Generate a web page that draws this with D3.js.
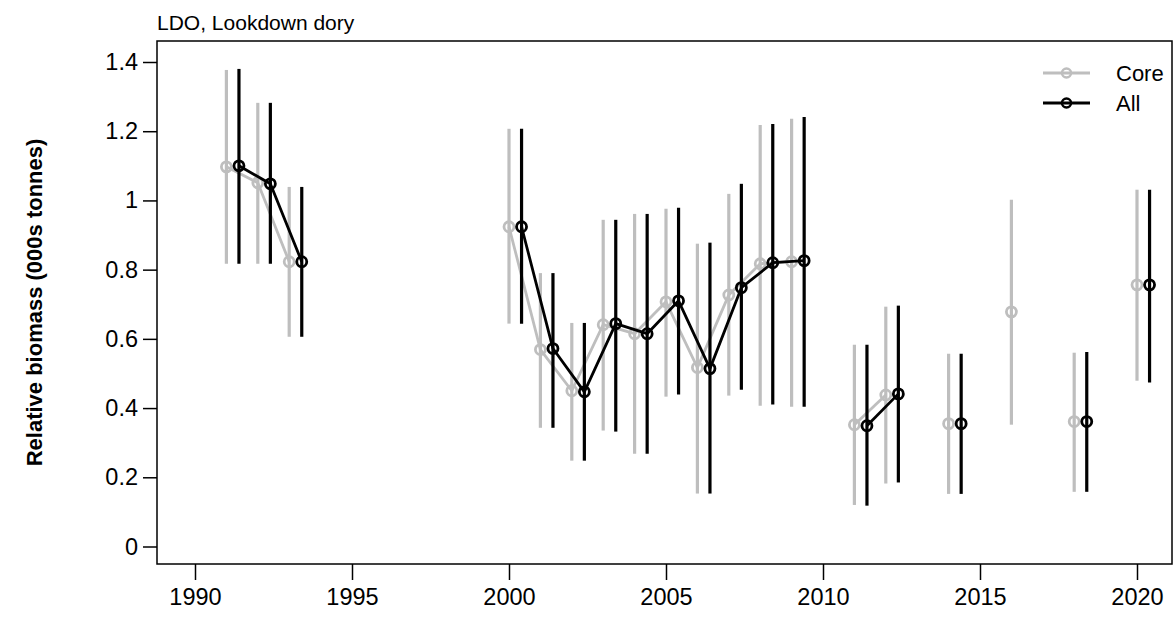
<!DOCTYPE html>
<html>
<head>
<meta charset="utf-8">
<script src="https://cdn.jsdelivr.net/npm/d3@7"></script>
<style>
  html, body { margin: 0; padding: 0; background: #fff; }
  svg { display: block; font-family: "Liberation Sans", Arial, sans-serif; }
</style>
</head>
<body>
<svg id="chart" width="1176" height="619"></svg>
<script>
const title = "LDO, Lookdown dory";
const yLabel = "Relative biomass (000s tonnes)";
const seriesNames = ["Core", "All"];

const years = [1991, 1992, 1993, 2000, 2001, 2002, 2003, 2004, 2005, 2006, 2007, 2008, 2009, 2011, 2012, 2014, 2016, 2018, 2020];

const coreVal = [1.097, 1.051, 0.823, 0.924, 0.569, 0.450, 0.641, 0.615, 0.707, 0.517, 0.727, 0.817, 0.823, 0.352, 0.438, 0.355, 0.678, 0.361, 0.756];
const coreLo  = [0.817, 0.817, 0.606, 0.644, 0.343, 0.248, 0.335, 0.268, 0.433, 0.153, 0.436, 0.407, 0.404, 0.120, 0.182, 0.152, 0.352, 0.158, 0.479];
const coreHi  = [1.377, 1.282, 1.039, 1.207, 0.790, 0.646, 0.944, 0.961, 0.976, 0.875, 1.019, 1.218, 1.236, 0.583, 0.693, 0.557, 1.002, 0.560, 1.031];

const allVal = [1.100, 1.048, 0.823, 0.924, 0.572, 0.447, 0.644, 0.615, 0.710, 0.514, 0.748, 0.820, 0.826, 0.349, 0.441, 0.355, null, 0.361, 0.756];
const allLo  = [0.817, 0.817, 0.606, 0.644, 0.343, 0.248, 0.332, 0.268, 0.439, 0.153, 0.453, 0.410, 0.404, 0.118, 0.185, 0.152, null, 0.158, 0.474];
const allHi  = [1.380, 1.282, 1.039, 1.207, 0.790, 0.646, 0.944, 0.961, 0.979, 0.878, 1.048, 1.221, 1.241, 0.583, 0.696, 0.557, null, 0.562, 1.031];

const xTicks = [1990, 1995, 2000, 2005, 2010, 2015, 2020];
const yTicks = [0, 0.2, 0.4, 0.6, 0.8, 1, 1.2, 1.4];

const svg = d3.select("#chart");

const x = d3.scaleLinear().domain([1990, 2020]).range([195, 1137]);
const y = d3.scaleLinear().domain([0, 1.4]).range([546.5, 62]);

const box = { left: 157, right: 1172, top: 41, bottom: 564 };
const greyCol = "#bebebe";

// plot frame
svg.append("rect")
  .attr("x", box.left).attr("y", box.top)
  .attr("width", box.right - box.left).attr("height", box.bottom - box.top)
  .attr("fill", "none").attr("stroke", "#000").attr("stroke-width", 1.5);

// x axis
const xAxis = d3.axisBottom(x).tickValues(xTicks).tickFormat(d3.format("d")).tickSize(16).tickPadding(8);
const gx = svg.append("g").attr("transform", `translate(0,${box.bottom})`).call(xAxis);
gx.select(".domain").remove();
gx.selectAll("line").attr("stroke", "#000").attr("stroke-width", 1.5);
gx.selectAll("text").attr("font-size", 23.5).attr("fill", "#000").attr("font-family", "Liberation Sans, Arial, sans-serif");

// y axis
const yAxis = d3.axisLeft(y).tickValues(yTicks).tickFormat(d => d3.format("~g")(d)).tickSize(14).tickPadding(5);
const gy = svg.append("g").attr("transform", `translate(${box.left},0)`).call(yAxis);
gy.select(".domain").remove();
gy.selectAll("line").attr("stroke", "#000").attr("stroke-width", 1.5);
gy.selectAll("text").attr("font-size", 23.5).attr("fill", "#000").attr("font-family", "Liberation Sans, Arial, sans-serif");

// title
svg.append("text").attr("x", 157).attr("y", 30)
  .attr("font-size", 21).attr("fill", "#000").text(title);

// y label
svg.append("text")
  .attr("transform", `translate(42,${(box.top + box.bottom) / 2}) rotate(-90)`)
  .attr("text-anchor", "middle")
  .attr("font-size", 22).attr("font-weight", "bold").attr("fill", "#000")
  .text(yLabel);

function buildSeries(vals, lo, hi, offset) {
  return years.map((yr, i) => ({ year: yr, xv: yr + offset, v: vals[i], lo: lo[i], hi: hi[i] }))
    .filter(d => d.v !== null);
}

function runs(data) {
  const out = [];
  let cur = [];
  data.forEach((d, i) => {
    if (i > 0 && d.year - data[i - 1].year !== 1) { out.push(cur); cur = []; }
    cur.push(d);
  });
  if (cur.length) out.push(cur);
  return out.filter(r => r.length > 1);
}

function drawSeries(data, color) {
  const g = svg.append("g");
  g.selectAll("line.err").data(data).enter().append("line")
    .attr("x1", d => x(d.xv)).attr("x2", d => x(d.xv))
    .attr("y1", d => y(d.lo)).attr("y2", d => y(d.hi))
    .attr("stroke", color).attr("stroke-width", 3.2);
  const line = d3.line().x(d => x(d.xv)).y(d => y(d.v));
  g.selectAll("path.seg").data(runs(data)).enter().append("path")
    .attr("d", line).attr("fill", "none").attr("stroke", color).attr("stroke-width", 2.8)
    .attr("stroke-linejoin", "round");
  g.selectAll("circle").data(data).enter().append("circle")
    .attr("cx", d => x(d.xv)).attr("cy", d => y(d.v)).attr("r", 5)
    .attr("fill", "none").attr("stroke", color).attr("stroke-width", 2.8);
}

drawSeries(buildSeries(coreVal, coreLo, coreHi, 0), greyCol);
drawSeries(buildSeries(allVal, allLo, allHi, 0.4), "#000");

// legend
const legend = svg.append("g");
const legItems = [{ name: seriesNames[0], color: greyCol, y: 73 }, { name: seriesNames[1], color: "#000", y: 103 }];
legItems.forEach(it => {
  legend.append("line").attr("x1", 1043).attr("x2", 1090).attr("y1", it.y).attr("y2", it.y)
    .attr("stroke", it.color).attr("stroke-width", 2.8);
  legend.append("circle").attr("cx", 1066.5).attr("cy", it.y).attr("r", 4.5)
    .attr("fill", "none").attr("stroke", it.color).attr("stroke-width", 2.5);
  legend.append("text").attr("x", 1116).attr("y", it.y).attr("dy", "0.35em")
    .attr("font-size", 22).attr("fill", "#000").text(it.name);
});
</script>
</body>
</html>
